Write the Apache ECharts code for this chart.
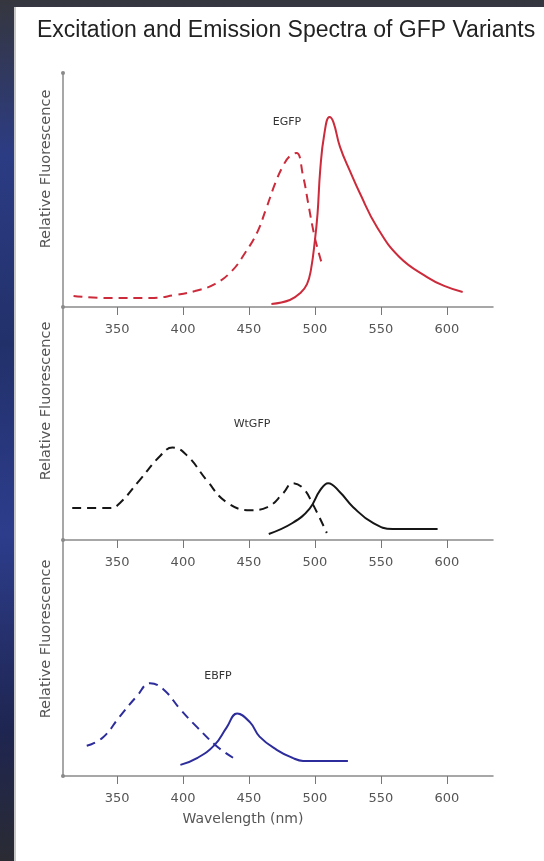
<!DOCTYPE html>
<html>
<head>
<meta charset="utf-8">
<script src="https://cdn.jsdelivr.net/npm/echarts@6/dist/echarts.min.js"></script>
<style>
html, body { margin: 0; padding: 0; }
body {
    width: 544px; height: 861px; position: relative; overflow: hidden;
    background: linear-gradient(180deg, #35363e 0%, #2c3c84 18%, #22306a 40%, #2d3d8c 62%, #1e2550 85%, #2a2b33 100%);
}
#panel { position: absolute; left: 14px; top: 7px; width: 530px; height: 854px; background: #fff; border-left: 2px solid #c8c8c8; box-sizing: border-box; }
#chart { position: absolute; left: 0; top: 0; width: 544px; height: 861px; }
</style>
</head>
<body>
<div id="panel"></div>
<div id="chart"></div>
<script>
// wavelength ticks shown on every panel
var ticks = [350, 400, 450, 500, 550, 600];

// EGFP (red)
var egfpExNm  = [317, 345, 375, 394, 409, 424, 437, 447, 456, 463, 470, 476, 481, 486, 491, 495, 499, 502, 505];
var egfpExVal = [4.7, 3.8, 3.8, 5.1, 6.8, 9.8, 15.4, 23.1, 31.6, 42, 53, 60.5, 64.5, 65.8, 56, 44, 32, 25, 19];
var egfpEmNm  = [467, 481, 489, 494, 497, 500, 502, 504, 507, 511, 514, 519, 527, 534, 547, 564, 585, 598, 612];
var egfpEmVal = [1.3, 3, 6, 9.8, 16, 28.6, 40, 58.5, 73.5, 81.2, 79, 68.4, 57.5, 48.7, 34.2, 21.4, 12.8, 9, 6.4];

// WtGFP (black)
var wtExNm  = [316, 345, 352, 367, 383, 392, 403, 418, 433, 451, 464, 476, 483, 491, 498, 509];
var wtExVal = [13.7, 13.7, 15.8, 25.6, 36.3, 39.7, 36.3, 25.6, 16.2, 12.8, 14.1, 20.1, 24.4, 22.2, 15.8, 3];
var wtEmNm  = [465, 483, 496, 504, 510, 519, 529, 544, 559, 593];
var wtEmVal = [2.6, 7.3, 13.5, 21.4, 24.4, 20.5, 14.1, 7.3, 4.7, 4.7];

// EBFP (blue)
var ebfpExNm  = [327, 339, 352, 365, 375, 385, 398, 411, 426, 438];
var ebfpExVal = [12.8, 16.2, 25.2, 33.8, 39.3, 36.8, 28.2, 20.5, 12.4, 7.7];
var ebfpEmNm  = [398, 411, 424, 433, 441, 451, 458, 471, 483, 491, 525];
var ebfpEmVal = [4.7, 7.7, 13.2, 20.5, 26.5, 22.6, 16.7, 11.1, 7.7, 6.4, 6.4];

function pairs(xs, ys) {
    return xs.map(function (x, i) { return [x, ys[i]]; });
}

var tickFont = "DejaVu Sans";
var panelTops = [73, 307, 540];
var panelHeights = [234, 233, 236];

function makeXAxis(i) {
    return {
        type: "value",
        gridIndex: i,
        min: 309,
        max: 635,
        axisLine: { lineStyle: { color: "#8a8a8a", width: 1.5 } },
        axisTick: { show: true, length: 8, customValues: ticks, lineStyle: { color: "#777" } },
        axisLabel: { customValues: ticks, margin: 16, color: "#555", fontSize: 13, fontFamily: tickFont },
        splitLine: { show: false }
    };
}
function makeYAxis(i) {
    return {
        type: "value",
        gridIndex: i,
        min: 0,
        max: 100,
        axisLine: {
            show: true,
            symbol: i === 0 ? ["circle", "circle"] : ["circle", "none"],
            symbolSize: [4, 4],
            lineStyle: { color: "#8a8a8a", width: 1.5 }
        },
        axisTick: { show: false },
        axisLabel: { show: false },
        splitLine: { show: false }
    };
}
function line(name, xs, ys, idx, color, dashed) {
    return {
        name: name,
        type: "line",
        xAxisIndex: idx,
        yAxisIndex: idx,
        data: pairs(xs, ys),
        smooth: 0.45,
        showSymbol: false,
        lineStyle: { color: color, width: 2, type: dashed ? [9, 6] : "solid" }
    };
}

var red = "#cc2b3b", black = "#161616", blue = "#2c2c9c";

var chart = echarts.init(document.getElementById("chart"));
var option = {
    animation: false,
    title: {
        text: "Excitation and Emission Spectra of GFP Variants",
        left: 37,
        top: 19,
        padding: 0,
        textStyle: { fontSize: 23, fontWeight: "normal", color: "#222", fontFamily: "Liberation Sans" }
    },
    grid: [0, 1, 2].map(function (i) {
        return { left: 63, width: 430, top: panelTops[i], height: panelHeights[i] };
    }),
    xAxis: [0, 1, 2].map(makeXAxis),
    yAxis: [0, 1, 2].map(makeYAxis),
    series: [
        line("EGFP excitation", egfpExNm, egfpExVal, 0, red, true),
        line("EGFP emission", egfpEmNm, egfpEmVal, 0, red, false),
        line("WtGFP excitation", wtExNm, wtExVal, 1, black, true),
        line("WtGFP emission", wtEmNm, wtEmVal, 1, black, false),
        line("EBFP excitation", ebfpExNm, ebfpExVal, 2, blue, true),
        line("EBFP emission", ebfpEmNm, ebfpEmVal, 2, blue, false)
    ],
    graphic: [
        { type: "text", x: 287, y: 122, style: { text: "EGFP", fill: "#333", font: "11px DejaVu Sans", align: "center", verticalAlign: "middle" } },
        { type: "text", x: 252, y: 424, style: { text: "WtGFP", fill: "#333", font: "11px DejaVu Sans", align: "center", verticalAlign: "middle" } },
        { type: "text", x: 218, y: 676, style: { text: "EBFP", fill: "#333", font: "11px DejaVu Sans", align: "center", verticalAlign: "middle" } },
        { type: "text", x: 46, y: 169, rotation: Math.PI / 2, style: { text: "Relative Fluorescence", fill: "#555", font: "14.5px DejaVu Sans", align: "center", verticalAlign: "middle" } },
        { type: "text", x: 46, y: 401, rotation: Math.PI / 2, style: { text: "Relative Fluorescence", fill: "#555", font: "14.5px DejaVu Sans", align: "center", verticalAlign: "middle" } },
        { type: "text", x: 46, y: 639, rotation: Math.PI / 2, style: { text: "Relative Fluorescence", fill: "#555", font: "14.5px DejaVu Sans", align: "center", verticalAlign: "middle" } },
        { type: "text", x: 243, y: 819, style: { text: "Wavelength (nm)", fill: "#555", font: "14px DejaVu Sans", align: "center", verticalAlign: "middle" } }
    ]
};
chart.setOption(option);

window.onresize = function () {
    chart.resize();
};
</script>
</body>
</html>
